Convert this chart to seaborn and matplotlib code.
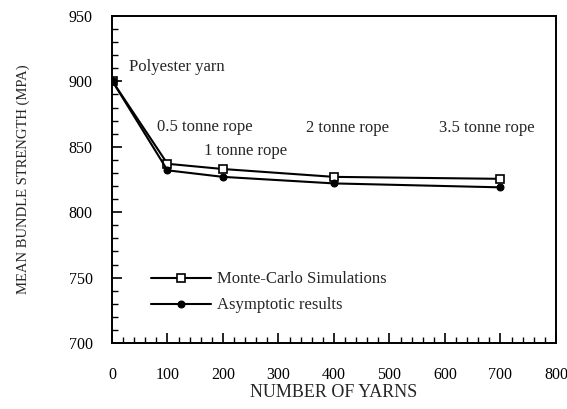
import matplotlib
matplotlib.use("Agg")
import matplotlib.pyplot as plt
import seaborn as sns
import pandas as pd
from matplotlib.ticker import MultipleLocator

# Data
n_yarns = [1, 100, 200, 400, 700]
monte_carlo = [900, 837, 833, 827, 825.5]
asymptotic = [900, 832, 827, 822, 819]
annot_texts = ["Polyester yarn", "0.5 tonne rope", "1 tonne rope", "2 tonne rope", "3.5 tonne rope"]
annot_x = [30, 82, 165, 350, 590]
annot_y = [911, 865, 847, 864, 864]
x_ticks = [0, 100, 200, 300, 400, 500, 600, 700, 800]
y_ticks = [700, 750, 800, 850, 900, 950]

sns.set_style("white")
plt.rcParams['font.family'] = ['Liberation Serif', 'DejaVu Serif']

fig = plt.figure(figsize=(5.67, 4.09), dpi=100)
ax = fig.add_axes([0.1975, 0.1614, 0.783, 0.7995])

df_mc = pd.DataFrame({"x": n_yarns, "y": monte_carlo})
df_as = pd.DataFrame({"x": n_yarns, "y": asymptotic})

sns.lineplot(data=df_mc, x="x", y="y", ax=ax, color="black", lw=1.5,
             marker="s", markersize=6, markerfacecolor="white",
             markeredgecolor="black", markeredgewidth=1.2,
             label="Monte-Carlo Simulations")
sns.lineplot(data=df_as, x="x", y="y", ax=ax, color="black", lw=1.5,
             marker="o", markersize=5, markerfacecolor="black",
             markeredgecolor="black", label="Asymptotic results")

ax.set_xlim(0, 800)
ax.set_ylim(700, 950)
ax.set_xticks(x_ticks)
ax.set_yticks(y_ticks)
ax.xaxis.set_minor_locator(MultipleLocator(20))
ax.yaxis.set_minor_locator(MultipleLocator(10))
ax.tick_params(which="both", direction="in", top=False, right=False,
               bottom=True, left=True, colors="black")
ax.tick_params(which="major", length=7, width=1.2, labelsize=11.5)
ax.tick_params(which="minor", length=4, width=1.0)
ax.tick_params(axis="x", which="major", pad=17)
ax.tick_params(axis="y", which="major", pad=14)

for s in ax.spines.values():
    s.set_color("black")
    s.set_linewidth(1.4)

ax.set_xlabel("NUMBER OF YARNS", fontsize=13, labelpad=1)
ax.set_ylabel("MEAN BUNDLE STRENGTH (MPA)", fontsize=10.5, labelpad=28)

for t, x, y in zip(annot_texts, annot_x, annot_y):
    ax.text(x, y, t, fontsize=12, ha="left", va="center")

leg = ax.legend(loc="upper left", bbox_to_anchor=(0.055, 0.265), frameon=False,
                fontsize=12, handlelength=3.6, labelspacing=0.6, handletextpad=0.35)

fig.savefig("out.png", dpi=100)
